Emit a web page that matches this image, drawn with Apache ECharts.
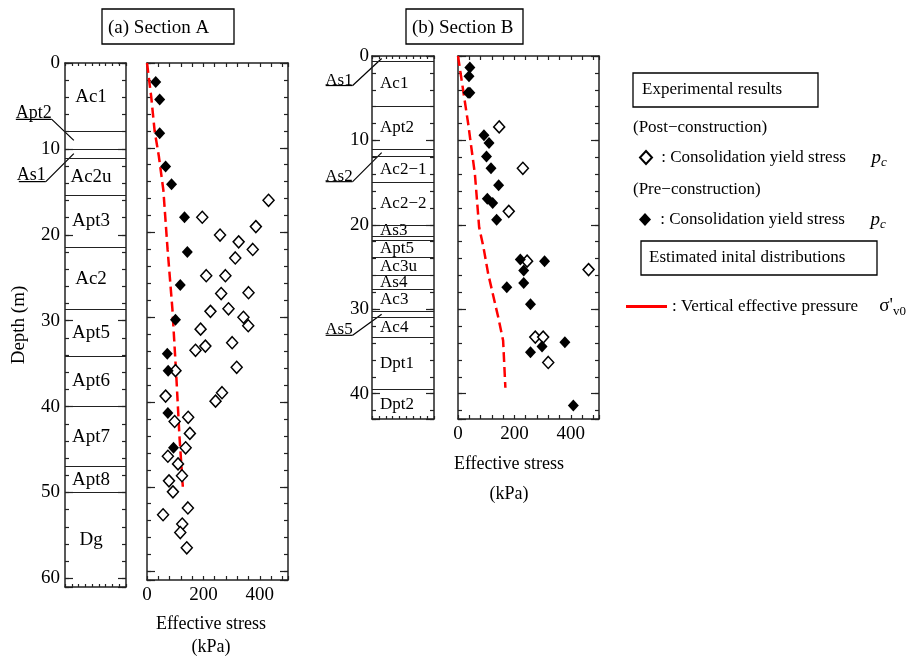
<!DOCTYPE html>
<html>
<head>
<meta charset="utf-8">
<script src="https://cdn.jsdelivr.net/npm/echarts@6/dist/echarts.min.js"></script>
<style>
html, body { margin: 0; padding: 0; background: #fff; }
#main { width: 919px; height: 664px; }
</style>
</head>
<body>
<div id="main"></div>
<script>
// ---- soil columns (layer name, top depth in m) ----
var layerA_names = ['Ac1', 'Apt2', 'As1', 'Ac2u', 'Apt3', 'Ac2', 'Apt5', 'Apt6', 'Apt7', 'Apt8', 'Dg'];
var layerA_tops = [0, 8, 10, 11.1, 15.4, 21.5, 28.7, 34.1, 40, 47, 50];
var layerA_bottom = 61;
var layerA_outside = ['Apt2', 'As1'];

var layerB_names = ['As1', 'Ac1', 'Apt2', 'As2', 'Ac2\u22121', 'Ac2\u22122', 'As3', '', 'Apt5', 'Ac3u', 'As4', 'Ac3', 'As5', 'Ac4', 'Dpt1', 'Dpt2'];
var layerB_tops = [0, 0.6, 6, 11, 11.9, 15, 20, 21.4, 21.85, 23.8, 26, 27.6, 30.2, 31, 33.3, 39.5];
var layerB_bottom = 43;
var layerB_outside = ['As1', 'As2', 'As5'];

// ---- Section A (stress kPa / depth m) ----
var postA_stress = [431, 196, 386, 259, 325, 375, 313, 210, 278, 263, 360, 225, 289, 342, 359, 190, 302, 207, 172, 318, 101, 66, 266, 243, 146, 98, 152, 137, 74, 110, 124, 78, 92, 145, 57, 125, 118, 141];
var postA_depth = [16.2, 18.2, 19.3, 20.3, 21.1, 22.0, 23.0, 25.1, 25.1, 27.2, 27.1, 29.3, 29.0, 30.0, 31.0, 31.4, 33.0, 33.4, 33.9, 35.9, 36.3, 39.3, 38.9, 39.9, 41.8, 42.3, 43.7, 45.4, 46.4, 47.3, 48.7, 49.3, 50.6, 52.5, 53.3, 54.4, 55.4, 57.2];
var preA_stress = [31, 45, 45, 66, 87, 133, 143, 118, 101, 72, 75, 74, 94];
var preA_depth = [2.25, 4.3, 8.3, 12.2, 14.3, 18.2, 22.3, 26.2, 30.3, 34.3, 36.3, 41.3, 45.4];
var sigmaA_stress = [0, 15, 27, 42, 58, 73, 90, 104, 115, 127];
var sigmaA_depth = [0, 4, 8, 11, 15, 22, 29, 37, 44, 50];

// ---- Section B ----
var postB_stress = [146, 230, 180, 245, 463, 274, 302, 320];
var postB_depth = [8.4, 13.3, 18.4, 24.3, 25.3, 33.3, 33.3, 36.3];
var preB_stress = [42, 39, 36, 42, 92, 110, 101, 117, 144, 104, 123, 137, 221, 307, 233, 233, 173, 257, 379, 298, 257, 409];
var preB_depth = [1.35, 2.4, 4.35, 4.35, 9.4, 10.3, 11.9, 13.3, 15.3, 16.9, 17.4, 19.4, 24.1, 24.3, 25.4, 26.9, 27.4, 29.4, 33.9, 34.4, 35.1, 41.4];
var sigmaB_stress = [0, 18, 36, 60, 75, 90, 107, 143, 160, 168];
var sigmaB_depth = [0, 4, 8, 14, 20.3, 22.6, 25.8, 31, 33.7, 39.3];

var FONT = 'Liberation Serif';
var AXIS = '#222';

function zip(a, b) {
    return a.map(function (v, i) { return [v, b[i]]; });
}

function layerLabels(names, tops, bottom, outside, xc) {
    var out = [];
    names.forEach(function (n, i) {
        if (!n || outside.indexOf(n) >= 0) return;
        var bot = i < tops.length - 1 ? tops[i + 1] : bottom;
        out.push([xc, (tops[i] + bot) / 2, n]);
    });
    return out;
}

function layerMid(names, tops, bottom, name) {
    var i = names.indexOf(name);
    var bot = i < tops.length - 1 ? tops[i + 1] : bottom;
    return (tops[i] + bot) / 2;
}

var grids = [
    { left: 65, top: 63, width: 61, height: 524 },    // column A
    { left: 147, top: 63, width: 141, height: 524 },  // plot A
    { left: 372, top: 56, width: 62, height: 363 },   // column B
    { left: 458, top: 56, width: 141, height: 363 }   // plot B
];

var xAxes = [], yAxes = [];
var tickStyle = { color: AXIS, width: 1.2 };
var lineStyle = { color: AXIS, width: 1.5 };

function addAxes(g, xmax, xint, xLabels, ymax, yMargin, extraX, extraY) {
    ['bottom', 'top'].forEach(function (pos, k) {
        xAxes.push(Object.assign({
            type: 'value', gridIndex: g, position: pos, min: 0, max: xmax, interval: xint,
            axisLine: { show: true, onZero: false, lineStyle: lineStyle },
            axisTick: { show: true, inside: true, length: xLabels ? 4 : 3, lineStyle: tickStyle },
            axisLabel: {
                show: xLabels && k === 0, margin: 6, fontFamily: FONT, fontSize: 19, color: '#000',
                formatter: function (v) { return v % 200 === 0 ? String(v) : ''; }
            },
            splitLine: { show: false }
        }, k === 0 ? extraX : {}));
    });
    ['left', 'right'].forEach(function (pos, k) {
        yAxes.push(Object.assign({
            type: 'value', gridIndex: g, position: pos, inverse: true, min: 0, max: ymax, interval: 2,
            axisLine: { show: true, onZero: false, lineStyle: lineStyle },
            axisTick: { show: true, inside: true, length: 4, lineStyle: tickStyle },
            axisLabel: {
                show: yMargin != null && k === 0, margin: yMargin, fontFamily: FONT, fontSize: 19, color: '#000',
                formatter: function (v) { return v % 10 === 0 ? String(v) : ''; }
            },
            splitLine: { show: false }
        }, k === 0 ? extraY : {}));
    });
    // longer ticks every 10 m
    ['left', 'right'].forEach(function (pos) {
        yAxes.push({
            type: 'value', gridIndex: g, position: pos, inverse: true, min: 0, max: ymax, interval: 10,
            axisLine: { show: false, onZero: false },
            axisTick: { show: true, inside: true, length: 8, lineStyle: tickStyle },
            axisLabel: { show: false },
            splitLine: { show: false }
        });
    });
}

var nameStyle = { fontFamily: FONT, fontSize: 18, color: '#000' };

addAxes(0, 9, 1, false, 61, 5, {}, {
    name: 'Depth (m)', nameLocation: 'middle', nameGap: 36, nameRotate: 90,
    nameTextStyle: { fontFamily: FONT, fontSize: 19, color: '#000' }
});
addAxes(1, 500, 40, true, 61, null, {
    name: 'Effective stress\n(kPa)', nameLocation: 'middle', nameGap: 33,
    nameTextStyle: Object.assign({ lineHeight: 23, padding: [0, 13, 0, 0] }, nameStyle)
}, {});
addAxes(2, 9, 1, false, 43, 3, {}, {});
addAxes(3, 500, 40, true, 43, null, {
    name: 'Effective stress\n(kPa)', nameLocation: 'middle', nameGap: 26,
    nameTextStyle: Object.assign({ lineHeight: 30, padding: [0, 39, 0, 0] }, nameStyle)
}, {});

function columnSeries(g, names, tops, bottom, outside, xc, pos, size) {
    return {
        type: 'scatter', name: 'layers' + g, xAxisIndex: 2 * g, yAxisIndex: 4 * g,
        symbolSize: 1, itemStyle: { color: 'transparent', opacity: 1 }, silent: true,
        emphasis: { disabled: true },
        data: layerLabels(names, tops, bottom, outside, xc),
        label: {
            show: true, position: pos, distance: 0, fontFamily: FONT, fontSize: size, color: '#000', opacity: 1,
            formatter: function (p) { return p.data[2]; }
        },
        markLine: {
            silent: true, symbol: ['none', 'none'], animation: false,
            label: { show: false },
            lineStyle: { color: AXIS, type: 'solid', width: 1.2, opacity: 1 },
            data: tops.slice(1).map(function (d) { return { yAxis: d }; })
        }
    };
}

function sigmaSeries(g, xs, ys) {
    return {
        type: 'line', name: 'Vertical effective pressure', xAxisIndex: 2 * g, yAxisIndex: 4 * g,
        data: zip(xs, ys), symbol: 'none', showSymbol: false, z: 2,
        lineStyle: { color: '#f00', width: 2.5, type: [10, 5] },
        itemStyle: { color: '#f00' }
    };
}

function pointSeries(g, name, xs, ys, filled) {
    return {
        type: 'scatter', name: name, xAxisIndex: 2 * g, yAxisIndex: 4 * g,
        data: zip(xs, ys), symbol: 'diamond', symbolSize: [11, 12], z: 3,
        emphasis: { disabled: true },
        itemStyle: filled ? { color: '#000', opacity: 1 } : { color: '#fff', borderColor: '#000', borderWidth: 1.5, opacity: 1 }
    };
}

var series = [
    columnSeries(0, layerA_names, layerA_tops, layerA_bottom, layerA_outside, 3.84, 'inside', 19),
    columnSeries(2, layerB_names, layerB_tops, layerB_bottom, layerB_outside, 1.1, 'right', 17),
    sigmaSeries(1, sigmaA_stress, sigmaA_depth),
    sigmaSeries(3, sigmaB_stress, sigmaB_depth),
    pointSeries(1, 'Post-construction', postA_stress, postA_depth, false),
    pointSeries(1, 'Pre-construction', preA_stress, preA_depth, true),
    pointSeries(3, 'Post-construction', postB_stress, postB_depth, false),
    pointSeries(3, 'Pre-construction', preB_stress, preB_depth, true)
];

var richSub = {
    p: { fontFamily: FONT, fontStyle: 'italic', fontSize: 19, color: '#000' },
    c: { fontFamily: FONT, fontStyle: 'italic', fontSize: 13, color: '#000', padding: [10, 0, 0, 0] },
    s: { fontFamily: FONT, fontSize: 19, color: '#000' },
    v: { fontFamily: FONT, fontSize: 13, color: '#000', padding: [10, 0, 0, 0] }
};
var legText = { fontFamily: FONT, fontSize: 17, color: '#000', rich: richSub };

var chart = echarts.init(document.getElementById('main'));
var option = {
    animation: false,
    backgroundColor: '#fff',
    title: [
        { text: '(a) Section A', left: 108, top: 19, padding: 0, textStyle: { fontFamily: FONT, fontSize: 19, fontWeight: 'normal', color: '#000' } },
        { text: '(b) Section B', left: 412, top: 19, padding: 0, textStyle: { fontFamily: FONT, fontSize: 19, fontWeight: 'normal', color: '#000' } }
    ],
    legend: [
        {
            data: ['Post-construction'], left: 639, top: 148, padding: 0, itemWidth: 12, itemHeight: 13,
            selectedMode: false, formatter: ' : Consolidation yield stress      {p|p}{c|c}', textStyle: legText
        },
        {
            data: ['Pre-construction'], left: 639, top: 210, padding: 0, itemWidth: 12, itemHeight: 13,
            selectedMode: false, formatter: ' : Consolidation yield stress      {p|p}{c|c}', textStyle: legText
        },
        {
            data: [{ name: 'Vertical effective pressure', icon: 'rect' }], left: 626, top: 297, padding: 0,
            itemWidth: 41, itemHeight: 3, selectedMode: false,
            formatter: ': Vertical effective pressure     {s|\u03c3\'}{v|v0}', textStyle: legText
        }
    ],
    grid: grids,
    xAxis: xAxes,
    yAxis: yAxes,
    series: series
};
chart.setOption(option);

// boxes, legend headings, and the out-of-column layer labels with leader lines
var txt = function (x, y, s, size, align) {
    return {
        type: 'text', x: x, y: y, silent: true,
        style: { text: s, font: size + 'px "' + FONT + '"', fill: '#000', align: align || 'left', verticalAlign: 'middle', textAlign: align || 'left', textVerticalAlign: 'middle' }
    };
};
var box = function (x, y, w, h) {
    return { type: 'rect', silent: true, shape: { x: x, y: y, width: w, height: h }, style: { fill: 'none', stroke: '#000', lineWidth: 1.3 } };
};
var graphics = [
    box(102, 9, 132, 35),
    box(406, 9, 117, 35),
    box(633, 73, 185, 34),
    txt(642, 90, 'Experimental results', 17),
    txt(633, 128, '(Post\u2212construction)', 17),
    txt(633, 190, '(Pre\u2212construction)', 17),
    box(641, 241, 236, 34),
    txt(649, 258, 'Estimated inital distributions', 17)
];

function outside(g, names, tops, bottom, name, xa, dx, dy, size) {
    var p = chart.convertToPixel({ xAxisIndex: 2 * g, yAxisIndex: 4 * g }, [xa, layerMid(names, tops, bottom, name)]);
    var ex = p[0] + dx, ey = p[1] + dy, w = name.length * 9;
    graphics.push({ type: 'line', silent: true, shape: { x1: p[0], y1: p[1], x2: ex, y2: ey }, style: { stroke: '#000', lineWidth: 1.2 } });
    graphics.push({ type: 'line', silent: true, shape: { x1: ex - w, y1: ey, x2: ex, y2: ey }, style: { stroke: '#000', lineWidth: 1.2 } });
    graphics.push({
        type: 'text', x: ex, y: ey + 3, silent: true,
        style: { text: name, font: size + 'px "' + FONT + '"', fill: '#000', align: 'right', verticalAlign: 'bottom', textAlign: 'right', textVerticalAlign: 'bottom' }
    });
}
outside(0, layerA_names, layerA_tops, layerA_bottom, 'Apt2', 1.3, -22, -21, 18);
outside(0, layerA_names, layerA_tops, layerA_bottom, 'As1', 1.3, -28, 28, 18);
outside(2, layerB_names, layerB_tops, layerB_bottom, 'As1', 1.4, -29, 27, 17);
outside(2, layerB_names, layerB_tops, layerB_bottom, 'As2', 1.4, -29, 29, 17);
outside(2, layerB_names, layerB_tops, layerB_bottom, 'As5', 1.4, -29, 21, 17);

chart.setOption({ graphic: graphics });
</script>
</body>
</html>
